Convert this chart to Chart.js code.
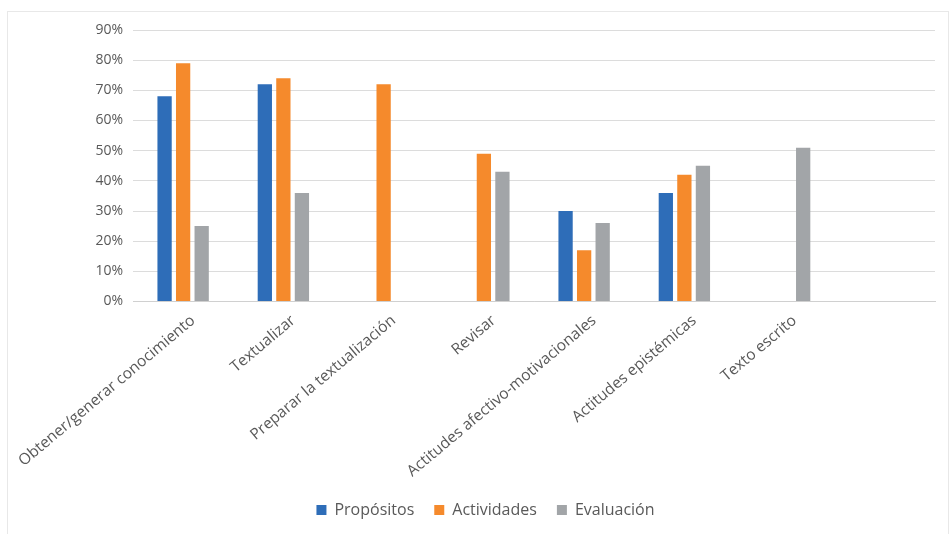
<!DOCTYPE html>
<html>
<head>
<meta charset="utf-8">
<script src="https://cdn.jsdelivr.net/npm/chart.js@4"></script>
<style>
  html, body { margin: 0; padding: 0; background: #fff; }
  #wrap { position: relative; width: 950px; height: 534px; }
  #frame { position: absolute; left: 7px; top: 11px; width: 940px; height: 530px; border: 1px solid #e8e8e8; pointer-events: none; }
</style>
</head>
<body>
<div id="wrap">
  <canvas id="chart" width="950" height="534"></canvas>
  <div id="frame"></div>
</div>
<script>
const categories = [
  'Obtener/generar conocimiento',
  'Textualizar',
  'Preparar la textualización',
  'Revisar',
  'Actitudes afectivo-motivacionales',
  'Actitudes epistémicas',
  'Texto escrito',
  ''
];
const propositos  = [0.68, 0.72, null, null, 0.30, 0.36, null, null];
const actividades = [0.79, 0.74, 0.72, 0.49, 0.17, 0.42, null, null];
const evaluacion  = [0.25, 0.36, null, 0.43, 0.26, 0.45, 0.51, null];
const yTicks = [0, 0.1, 0.2, 0.3, 0.4, 0.5, 0.6, 0.7, 0.8, 0.9];

const textColor = '#595959';
const family = "'Open Sans', 'Noto Sans', sans-serif";

const ctx = document.getElementById('chart').getContext('2d');
new Chart(ctx, {
  type: 'bar',
  data: {
    labels: categories,
    datasets: [
      { label: 'Propósitos',  data: propositos,  backgroundColor: '#2E6DB8' },
      { label: 'Actividades', data: actividades, backgroundColor: '#F58A2C' },
      { label: 'Evaluación',  data: evaluacion,  backgroundColor: '#A2A5A8' }
    ]
  },
  options: {
    responsive: false,
    animation: false,
    categoryPercentage: 0.555,
    barPercentage: 0.77,
    layout: { padding: { top: 30, right: 15, left: 36, bottom: 6 } },
    scales: {
      x: {
        grid: { display: false },
        border: { color: '#d0d0d0' },
        ticks: {
          color: textColor,
          font: { family: family, size: 15.5 },
          minRotation: 40,
          maxRotation: 40,
          autoSkip: false,
          padding: 2,
          labelOffset: 10
        },
        afterFit: (scale) => { scale.height = 180.5; }
      },
      y: {
        min: 0,
        max: 0.9,
        afterBuildTicks: (scale) => { scale.ticks = yTicks.map(v => ({ value: v })); },
        grid: { color: '#dcdcdc', drawTicks: false },
        border: { display: false },
        ticks: {
          color: textColor,
          font: { family: family, size: 14 },
          padding: 10,
          callback: (v) => Math.round(v * 100) + '%'
        },
        afterFit: (scale) => { scale.width = 97; }
      }
    },
    plugins: {
      legend: {
        position: 'bottom',
        labels: {
          color: textColor,
          font: { family: family, size: 16 },
          boxWidth: 10,
          boxHeight: 10,
          padding: 20
        }
      },
      tooltip: { enabled: false }
    }
  }
});
</script>
</body>
</html>
